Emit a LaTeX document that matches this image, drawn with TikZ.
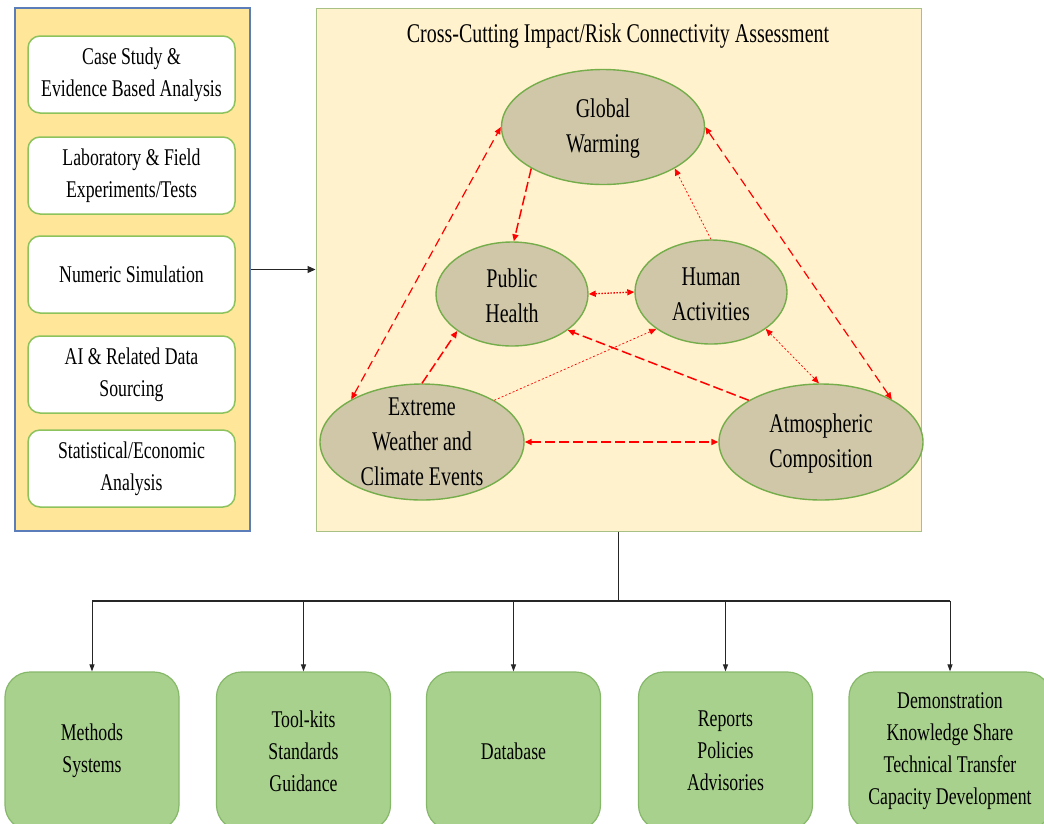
\documentclass[tikz,border=0pt]{standalone}
\usepackage{fontspec}
\setmainfont[FakeStretch=0.74]{Liberation Serif}
\usetikzlibrary{shapes.geometric,arrows.meta}
\definecolor{leftfill}{HTML}{FFE699}
\definecolor{leftdraw}{HTML}{5B7DBA}
\definecolor{boxdraw}{HTML}{8CC35C}
\definecolor{panelfill}{HTML}{FFF2CC}
\definecolor{paneldraw}{HTML}{A8C083}
\definecolor{ellfill}{HTML}{D0C7A9}
\definecolor{elldraw}{HTML}{74AD4A}
\definecolor{outfill}{HTML}{A9D18E}
\definecolor{outdraw}{HTML}{86B86A}
\definecolor{linkred}{HTML}{FF0000}
\begin{document}
\begin{tikzpicture}[x=1pt,y=-1pt,
  leftpanel/.style={draw=leftdraw, line width=1.6pt, fill=leftfill, minimum width=235pt, minimum height=523pt, inner sep=0pt},
  centerpanel/.style={draw=paneldraw, line width=1pt, fill=panelfill, minimum width=605pt, minimum height=523pt, inner sep=0pt},
  methodbox/.style={draw=boxdraw, line width=1.5pt, fill=white, rounded corners=12pt, minimum width=207pt, minimum height=77pt, align=center, font=\fontsize{24}{32}\selectfont, inner sep=0pt},
  topic/.style={ellipse, draw=elldraw, line width=1.4pt, fill=ellfill, inner sep=0pt},
  topictext/.style={align=center, inner sep=0pt, font=\fontsize{27}{35}\selectfont},
  outbox/.style={draw=outdraw, line width=1.2pt, fill=outfill, rounded corners=25pt, minimum height=158pt, minimum width=174pt, align=center, font=\fontsize{24}{32}\selectfont, inner sep=0pt},
  redlong/.style={draw=linkred, line width=1.2pt, dash pattern=on 9pt off 5pt},
  redbold/.style={draw=linkred, line width=1.5pt, dash pattern=on 10pt off 4pt},
  redthin/.style={draw=linkred, line width=0.7pt, dash pattern=on 2pt off 2pt},
  reddot/.style={draw=linkred, line width=1.3pt, dash pattern=on 1.5pt off 1.5pt},
  >={Triangle[length=7pt,width=6pt]},
  blk/.style={draw=black!85, line width=1pt},
  blktip/.style={-{Triangle[length=7pt,width=5pt]}}
]
\useasboundingbox (0,0) rectangle (1044,823);
\fill[white] (0,0) rectangle (1044,823);

% left panel
\node[leftpanel] (left) at (132.5,269.5) {};
\node[methodbox] (m1) at (131.5,74.5) {Case Study \&\\Evidence Based Analysis};
\node[methodbox] (m2) at (131.5,175.5) {Laboratory \& Field\\Experiments/Tests};
\node[methodbox] (m3) at (131.5,274.5) {Numeric Simulation};
\node[methodbox] (m4) at (131.5,374.5) {AI \& Related Data\\Sourcing};
\node[methodbox] (m5) at (131.5,468.5) {Statistical/Economic\\Analysis};

% center panel
\node[centerpanel] (center) at (618.5,269.5) {};
\node[font=\fontsize{27}{35}\selectfont, inner sep=0pt] (title) at (618,36) {Cross-Cutting Impact/Risk Connectivity Assessment};

\node[topic, minimum width=203pt, minimum height=115pt] (GW) at (603,127) {};
\node[topic, minimum width=152pt, minimum height=104pt] (PH) at (512,294) {};
\node[topic, minimum width=152pt, minimum height=104pt] (HA) at (711,292) {};
\node[topic, minimum width=204pt, minimum height=116pt] (EW) at (422,442) {};
\node[topic, minimum width=204pt, minimum height=116pt] (AC) at (821,442) {};
\node[topictext] (GWt) at ([yshift=-2pt]GW.center) {Global\\Warming};
\node[topictext] (PHt) at ([yshift=-2pt]PH.center) {Public\\Health};
\node[topictext] (HAt) at ([yshift=-2pt]HA.center) {Human\\Activities};
\node[topictext] (EWt) at (EW.center) {Extreme\\Weather and\\Climate Events};
\node[topictext] (ACt) at ([yshift=-1pt]AC.center) {Atmospheric\\Composition};

% red links
\draw[redlong,<->] (EW.149) -- (GW.180);
\draw[redbold,->] (GW.210) -- (PH.88);
\draw[redthin,->] (HA.90) -- (GW.330);
\draw[redlong,<->] (GW.0) -- (AC.31);
\draw[reddot,<->] (PH.0) -- (HA.180);
\draw[redbold,->] (EW.90) -- (PH.214);
\draw[redthin,->] (EW.30) -- (HA.214);
\draw[redbold,->] (AC.150) -- (PH.327);
\draw[redthin,<->] (HA.326) -- (AC.92);
\draw[redbold,<->] (EW.0) -- (AC.180);

% left -> center
\draw[blk, line width=1.3pt, -{Triangle[length=8pt,width=7pt]}] (left) -- (center);

% outputs
\node[outbox] (o1) at (92,751) {Methods\\Systems};
\node[outbox] (o2) at (303.5,751) {Tool-kits\\Standards\\Guidance};
\node[outbox] (o3) at (513.5,751) {Database};
\node[outbox] (o4) at (725.5,751) {Reports\\Policies\\Advisories};
\node[outbox, minimum width=202pt] (o5) at (950,751) {Demonstration\\Knowledge Share\\Technical Transfer\\Capacity Development};

\coordinate (bus) at (618.5,601);
\coordinate (busL) at (92,601);
\coordinate (busR) at (950,601);
\draw[blk, line width=1.3pt] (center.south) -- (bus);
\draw[blk, line width=2pt] (busL) -- (busR);
\foreach \o in {o1,o2,o3,o4,o5}{
  \draw[blk, blktip] (\o.north |- bus) -- (\o.north);
}
\end{tikzpicture}
\end{document}
